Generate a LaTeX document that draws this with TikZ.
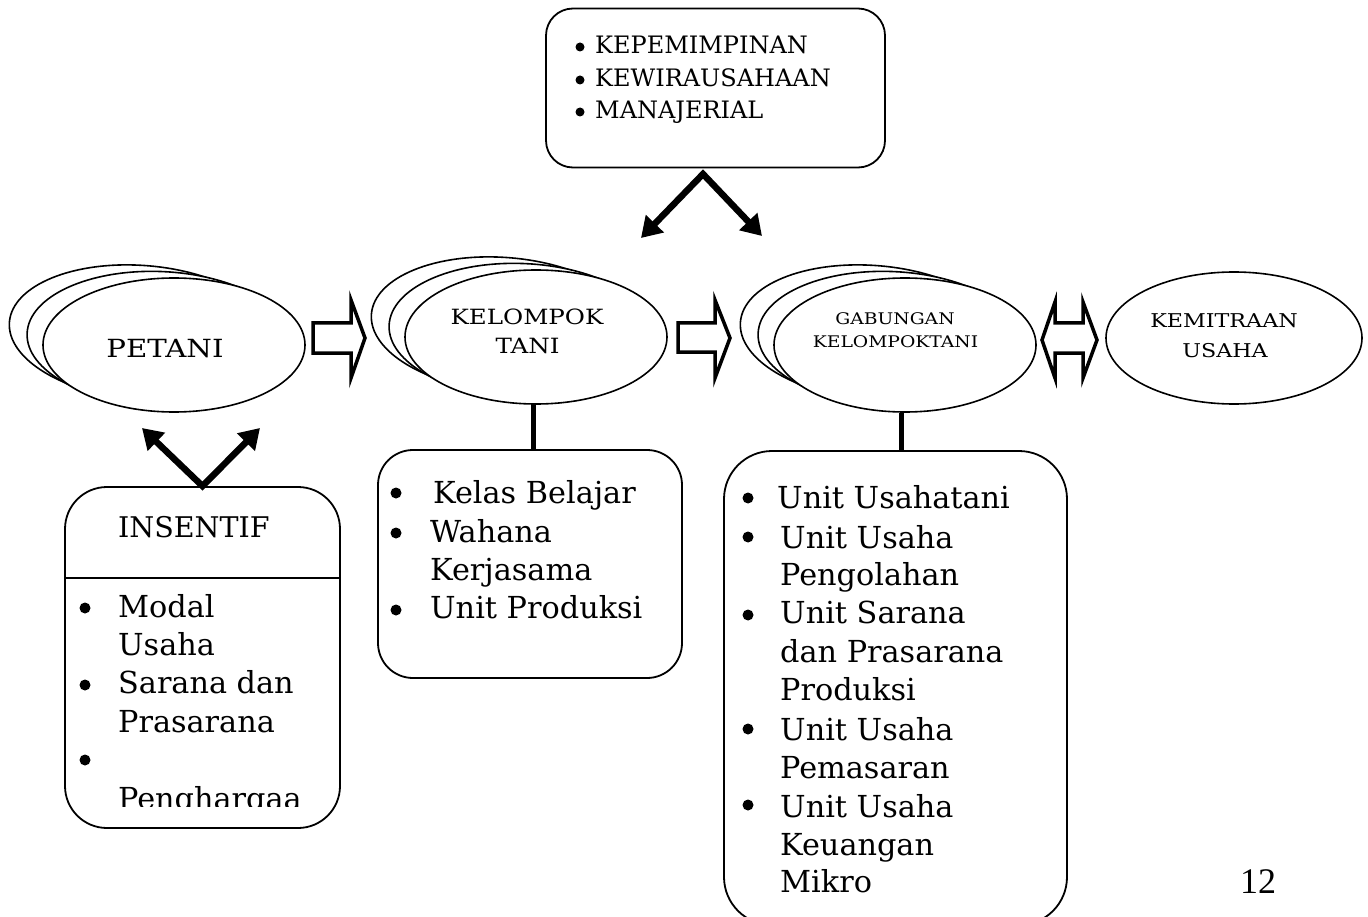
\documentclass[tikz,border=0pt]{standalone}
\usepackage{fontspec}
\setmainfont{DejaVu Serif}
\newfontfamily\widefont[FakeStretch=1.17]{DejaVu Serif}
\newfontfamily\numfont{Liberation Serif}
\usetikzlibrary{shapes.geometric,arrows.meta}
\tikzset{
  rbox/.style={draw, line width=1.8pt, inner sep=0pt, fill=white},
  ell/.style={draw, ellipse, line width=1.6pt, fill=white, minimum width=262pt, minimum height=134pt, inner sep=0pt},
  blk/.style={draw, line width=3.5pt, miter limit=20, fill=white},
  vee/.style={line width=6.5pt, {Triangle[length=20pt,width=24pt]}-{Triangle[length=20pt,width=24pt]}},
  stem/.style={line width=5pt},
  bul/.style={circle, fill, inner sep=0pt, minimum size=11pt},
  sbul/.style={circle, fill, inner sep=0pt, minimum size=9pt},
  lt/.style={anchor=base west, inner sep=0pt, font=\fontsize{30.3}{36}\selectfont},
  tt/.style={anchor=base west, inner sep=0pt, font=\fontsize{24}{30}\selectfont},
  lab/.style={anchor=base, inner sep=0pt},
}
\begin{document}
\begin{tikzpicture}[x=1pt,y=-1pt]
\useasboundingbox (0,0) rectangle (1368,917);
\clip (0,0) rectangle (1368,917);

% top box
\node[rbox, rounded corners=27pt, minimum width=339pt, minimum height=159pt] (top) at (715.5,88) {};
\node[sbul] (tb1) at (580,47) {};
\node[sbul] (tb2) at (580,80) {};
\node[sbul] (tb3) at (580,112) {};
\node[tt] (tt1) at (595,54) {KEPEMIMPINAN};
\node[tt] (tt2) at (595,87) {KEWIRAUSAHAAN};
\node[tt] (tt3) at (595,119) {MANAJERIAL};

% ellipse stacks
\node[ell, rotate=-4.5, minimum width=266pt] (pet3) at (142,332.5) {};
\node[ell, rotate=-2.2, minimum width=264pt] (pet2) at (159,338.5) {};
\node[ell] (pet) at (174,345) {};
\node[lab, font=\widefont\fontsize{25}{30}\selectfont] (petT) at (165,357) {PETANI};

\node[ell, rotate=-4.5, minimum width=266pt] (kt3) at (504,324.5) {};
\node[ell, rotate=-2.2, minimum width=264pt] (kt2) at (521,330.5) {};
\node[ell] (kt) at (536,337) {};
\node[lab, font=\widefont\fontsize{21}{26}\selectfont] (ktT1) at (527,325) {KELOMPOK};
\node[lab, font=\widefont\fontsize{21}{26}\selectfont] (ktT2) at (527.5,353) {TANI};

\node[ell, rotate=-4.5, minimum width=266pt] (gk3) at (873,332.5) {};
\node[ell, rotate=-2.2, minimum width=264pt] (gk2) at (890,338.5) {};
\node[ell] (gk) at (905,345) {};
\node[lab, font=\widefont\fontsize{16}{20}\selectfont] (gkT1) at (895,325) {GABUNGAN};
\node[lab, font=\widefont\fontsize{16}{20}\selectfont] (gkT2) at (895.5,348) {KELOMPOKTANI};

\node[ell, minimum width=256pt, minimum height=132pt] (km) at (1234,338) {};
\node[lab, font=\widefont\fontsize{19}{24}\selectfont] (kmT1) at (1224,327) {KEMITRAAN};
\node[lab, font=\widefont\fontsize{19}{24}\selectfont] (kmT2) at (1225,357) {USAHA};

% block arrows
\draw[blk] (313,323) -- (351,323) -- (351,300) -- (365,338) -- (351,378) -- (351,353) -- (313,353) -- cycle;
\draw[blk] (678,323) -- (715,323) -- (715,300) -- (730,338) -- (715,378) -- (715,352) -- (678,352) -- cycle;
\draw[blk] (1042,340) -- (1055,302) -- (1055,323) -- (1083,323) -- (1083,302) -- (1097,340) -- (1083,378) -- (1083,353) -- (1055,353) -- (1055,378) -- cycle;

% top V arrows
\coordinate (tapex) at (703,174);
\coordinate (tl) at (641,238);
\coordinate (tr) at (762,236);
\draw[vee] (tl) -- (tapex) -- (tr);

% kelompok list box
\node[rbox, rounded corners=35pt, minimum width=304pt, minimum height=228pt] (kbox) at (530,564) {};
\draw[stem] ([xshift=-3pt]kt.south) -- ([xshift=-3pt]kt.south |- kbox.north);
\node[bul] (kb1) at (396,493) {};
\node[bul] (kb2) at (396,533) {};
\node[bul] (kb3) at (396,610) {};
\node[lt] (kl1) at (433,503) {Kelas Belajar};
\node[lt] (kl2) at (430,542) {Wahana};
\node[lt] (kl3) at (430,580) {Kerjasama};
\node[lt] (kl4) at (430,618) {Unit Produksi};

% gabungan list box
\node[rbox, rounded corners=48pt, minimum width=343pt, minimum height=474pt] (gbox) at (895.5,688) {};
\draw[stem] ([xshift=-4pt]gk.south) -- ([xshift=-4pt]gk.south |- gbox.north);
\node[bul] (gb1) at (748,498) {};
\node[bul] (gb2) at (748,537) {};
\node[bul] (gb3) at (748,615) {};
\node[bul] (gb4) at (748,729) {};
\node[bul] (gb5) at (748,805) {};
\node[lt] (gl1) at (777,508) {Unit Usahatani};
\node[lt] (gl2) at (780,548) {Unit Usaha};
\node[lt] (gl3) at (780,585) {Pengolahan};
\node[lt] (gl4) at (780,623) {Unit Sarana};
\node[lt] (gl5) at (780,662) {dan Prasarana};
\node[lt] (gl6) at (780,700) {Produksi};
\node[lt] (gl7) at (780,740) {Unit Usaha};
\node[lt] (gl8) at (780,778) {Pemasaran};
\node[lt] (gl9) at (780,817) {Unit Usaha};
\node[lt] (gl10) at (780,855) {Keuangan};
\node[lt] (gl11) at (780,892) {Mikro};

% insentif box
\node[rbox, rounded corners=42pt, minimum width=275pt, minimum height=341pt] (ins) at (202.5,657.5) {};
\draw[line width=1.8pt] (ins.west |- 0,578) -- (ins.east |- 0,578);
\node[lt, font=\fontsize{28.5}{34}\selectfont] (insT) at (118,537) {INSENTIF};
\coordinate (il) at (142,428);
\coordinate (ir) at (260,428);
\draw[vee] (il) -- (ins.north) -- (ir);
\node[bul] (ib1) at (85,608) {};
\node[bul] (ib2) at (85,685) {};
\node[bul] (ib3) at (85,760) {};
\begin{scope}
\clip (66,580) rectangle (340,806);
\node[lt] (il1) at (118,617) {Modal};
\node[lt] (il2) at (118,655) {Usaha};
\node[lt] (il3) at (118,693) {Sarana dan};
\node[lt] (il4) at (118,732) {Prasarana};
\node[lt] (il5) at (118,809) {Penghargaa};
\end{scope}

% page number
\node[anchor=base west, inner sep=0pt, font=\numfont\fontsize{36}{44}\selectfont] (pg) at (1240,893) {12};
\end{tikzpicture}
\end{document}
